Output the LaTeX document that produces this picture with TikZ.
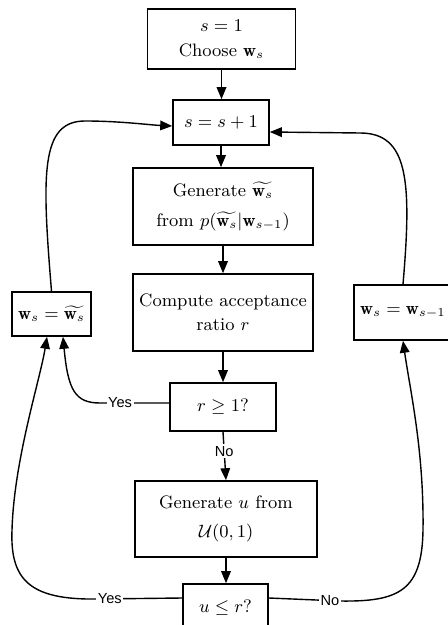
\documentclass[tikz,border=0pt]{standalone}
\usepackage{fontspec}
\usepackage{amsmath}
\newfontfamily\lblfont{Liberation Sans}
\usetikzlibrary{arrows.meta}
\begin{document}
\begin{tikzpicture}[x=0.5pt,y=-0.5pt,
  box/.style={draw, line width=0.8pt, inner sep=0pt, align=center, font=\fontsize{9}{12.5}\selectfont},
  conn/.style={line width=0.7pt, -{Triangle[length=6pt,width=4.8pt]}},
  lbl/.style={font=\lblfont\fontsize{7.3}{8}\selectfont, fill=white, inner sep=0.8pt}]
\useasboundingbox (0,0) rectangle (447,625);
\node[box, minimum width=74pt, minimum height=30pt] (b1) at (221.5,39) {$s=1$\\Choose $\mathbf{w}_s$};
\node[box, minimum width=48pt, minimum height=22.5pt] (b2) at (221,122.5) {$s=s+1$};
\node[box, minimum width=90pt, minimum height=38.5pt] (b3) at (223,206.5) {Generate $\widetilde{\mathbf{w}_s}$\\[2.5pt]from $p(\widetilde{\mathbf{w}_s}|\mathbf{w}_{s-1})$};
\node[box, minimum width=90pt, minimum height=38.5pt] (b4) at (223,312.5) {Compute acceptance\\[-0.5pt]ratio $r$};
\node[box, minimum width=39.5pt, minimum height=22pt] (bL) at (51.5,314) {$\mathbf{w}_s=\widetilde{\mathbf{w}_s}$};
\node[box, minimum width=49pt, minimum height=27.5pt] (bR) at (403,312.5) {$\mathbf{w}_s=\mathbf{w}_{s-1}$};
\node[box, minimum width=53pt, minimum height=24pt] (b5) at (223,407) {$r\geq 1?$};
\node[box, minimum width=91pt, minimum height=38pt] (b6) at (226,519) {Generate $u$ from\\[2pt]$\mathcal{U}(0,1)$};
\node[box, minimum width=42.5pt, minimum height=24pt] (b7) at (225.5,608) {$u\leq r?$};

\draw[conn] (b1.south) -- (b1.south |- b2.north);
\draw[conn] (b2.south) -- (b2.south |- b3.north);
\draw[conn] (b3.south) -- (b4.north);
\draw[conn] (b4.south) -- (b5.north);
\draw[conn] (b5.south) -- node[lbl, pos=0.4] {No} (b6.north);
\draw[conn] (b6.south) -- (b6.south |- b7.north);

% left box back to s=s+1
\draw[conn] (bL.north) .. controls (42,175) and (40,121) .. (85,121)
  .. controls (120,121) and (150,125) .. ([yshift=-1.75pt]b2.west);
% right box back to s=s+1
\draw[conn] (bR.north) .. controls (412,180) and (408,133) .. (360,133) -- ([yshift=-4.75pt]b2.east);
% r>=1 yes
\draw[conn] ([yshift=2pt]b5.west) -- node[lbl, pos=0.71] {Yes} (100,403)
  .. controls (75,403) and (68,390) .. ([xshift=5.75pt]bL.south);
% u<=r yes
\draw[conn] ([yshift=5pt]b7.west) -- node[lbl, pos=0.85] {Yes} (97,599)
  .. controls (30,600) and (10,580) .. (12,530)
  .. controls (14,460) and (40,380) .. ([xshift=-2.25pt]bL.south);
% u<=r no
\draw[conn] ([yshift=5pt]b7.east) -- node[lbl, pos=0.86] {No} (340,601)
  .. controls (400,602) and (422,590) .. (423,530)
  .. controls (424,450) and (410,390) .. (bR.south);
\end{tikzpicture}
\end{document}
